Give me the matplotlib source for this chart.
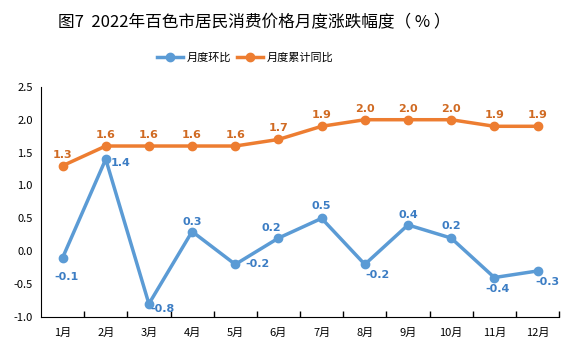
import matplotlib.pyplot as plt

plt.rcParams['font.family'] = ['Noto Sans CJK SC', 'DejaVu Sans']

months = ['1月', '2月', '3月', '4月', '5月', '6月', '7月', '8月', '9月', '10月', '11月', '12月']
mom = [-0.1, 1.4, -0.8, 0.3, -0.2, 0.2, 0.5, -0.2, 0.4, 0.2, -0.4, -0.3]
ytd = [1.3, 1.6, 1.6, 1.6, 1.6, 1.7, 1.9, 2.0, 2.0, 2.0, 1.9, 1.9]

# label offsets (points) for the blue series
mom_off = [(3, -14), (11, -3), (10, -4), (0, 7), (16, 0), (-5, 7),
           (0, 9), (9, -8), (0, 7), (0, 9), (2, -8), (7, -8)]

blue = '#5B9BD5'
orange = '#ED7D31'
blue_txt = '#3C7DC4'
orange_txt = '#D06A22'

fig = plt.figure(figsize=(5.77, 3.53), dpi=100)
ax = fig.add_axes([0.071, 0.102, 0.898, 0.652])

x = list(range(len(months)))
ax.plot(x, mom, color=blue, lw=2.5, marker='o', ms=6, label='月度环比')
ax.plot(x, ytd, color=orange, lw=2.5, marker='o', ms=6, label='月度累计同比')

for i, v in enumerate(ytd):
    ax.annotate(f'{v:.1f}', (i, v), textcoords='offset points', xytext=(0, 8),
                ha='center', va='center', fontsize=8, color=orange_txt, fontweight='bold',
                family=['DejaVu Sans'])
for i, v in enumerate(mom):
    dx, dy = mom_off[i]
    ax.annotate(f'{v:.1f}', (i, v), textcoords='offset points', xytext=(dx, dy),
                ha='center', va='center', fontsize=8, color=blue_txt, fontweight='bold',
                family=['DejaVu Sans'])

ax.set_xlim(-0.5, len(months) - 0.5)
ax.set_ylim(-1.0, 2.5)
ax.set_yticks([-1.0, -0.5, 0.0, 0.5, 1.0, 1.5, 2.0, 2.5])
ax.set_yticklabels([f'{t:.1f}' for t in ax.get_yticks()], fontsize=8)
ax.set_xticks(x)
ax.set_xticklabels(months, fontsize=8)
ax.set_xticks([i + 0.5 for i in range(len(months))], minor=True)
ax.tick_params(axis='x', which='major', length=0, pad=8)
ax.tick_params(axis='x', which='minor', direction='in', length=4, width=1)
ax.tick_params(axis='y', length=0, pad=6)
for s in ['top', 'right']:
    ax.spines[s].set_visible(False)
ax.spines['left'].set_color('black')
ax.spines['bottom'].set_color('black')

fig.text(0.44, 0.935, '图7  2022年百色市居民消费价格月度涨跌幅度（ % ）', ha='center', va='center',
         fontsize=12)
fig.legend(loc='center', bbox_to_anchor=(0.425, 0.836), ncol=2, frameon=False,
           fontsize=8, handlelength=2.3, columnspacing=0.6, handletextpad=0.3)

fig.savefig('out.png', dpi=100)
